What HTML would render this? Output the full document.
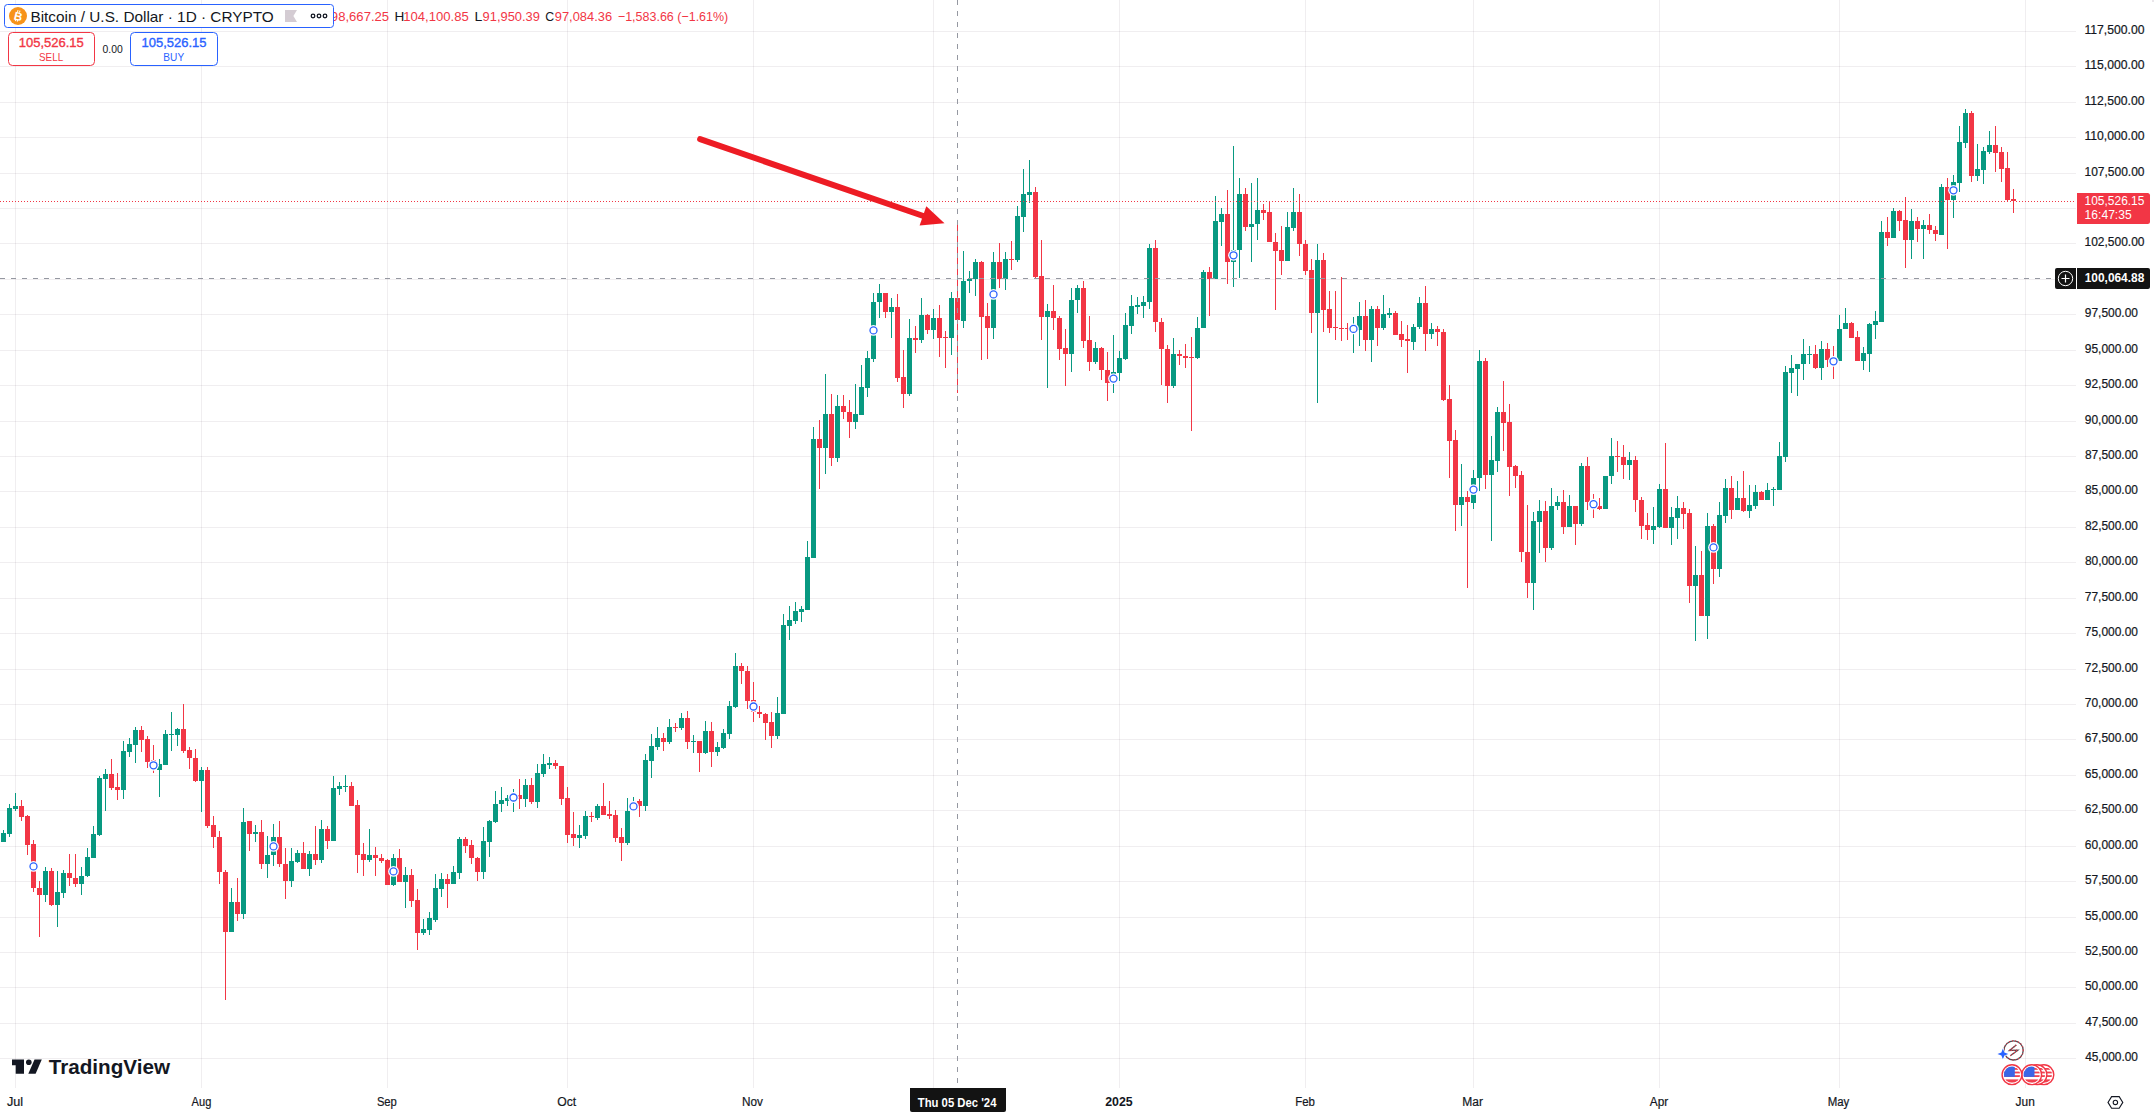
<!DOCTYPE html>
<html><head><meta charset="utf-8"><title>BTCUSD 1D</title><style>
html,body{margin:0;padding:0;background:#fff;}
body{width:2154px;height:1116px;overflow:hidden;position:relative;}
svg{position:absolute;left:0;top:0;font-family:"Liberation Sans",sans-serif;}
</style></head><body>
<svg width="2154" height="1116" viewBox="0 0 2154 1116">
<path d="M15 0h1v1088h-1zM201 0h1v1088h-1zM387 0h1v1088h-1zM567 0h1v1088h-1zM753 0h1v1088h-1zM933 0h1v1088h-1zM1119 0h1v1088h-1zM1305 0h1v1088h-1zM1473 0h1v1088h-1zM1659 0h1v1088h-1zM1839 0h1v1088h-1zM2025 0h1v1088h-1z" fill="rgba(110,90,110,0.1)" shape-rendering="crispEdges"/>
<path d="M0 31h2076v1h-2076zM0 66h2076v1h-2076zM0 102h2076v1h-2076zM0 137h2076v1h-2076zM0 173h2076v1h-2076zM0 208h2076v1h-2076zM0 243h2076v1h-2076zM0 279h2076v1h-2076zM0 314h2076v1h-2076zM0 350h2076v1h-2076zM0 385h2076v1h-2076zM0 421h2076v1h-2076zM0 456h2076v1h-2076zM0 491h2076v1h-2076zM0 527h2076v1h-2076zM0 562h2076v1h-2076zM0 598h2076v1h-2076zM0 633h2076v1h-2076zM0 669h2076v1h-2076zM0 704h2076v1h-2076zM0 739h2076v1h-2076zM0 775h2076v1h-2076zM0 810h2076v1h-2076zM0 846h2076v1h-2076zM0 881h2076v1h-2076zM0 917h2076v1h-2076zM0 952h2076v1h-2076zM0 987h2076v1h-2076zM0 1023h2076v1h-2076zM0 1058h2076v1h-2076z" fill="rgba(110,90,110,0.1)" shape-rendering="crispEdges"/>
<g shape-rendering="crispEdges">
<path d="M3 830h1v12h-1zM9 804h1v33h-1zM15 793h1v18h-1zM45 867h1v35h-1zM57 871h1v56h-1zM63 870h1v28h-1zM81 867h1v28h-1zM87 848h1v29h-1zM93 826h1v32h-1zM99 776h1v60h-1zM105 769h1v42h-1zM123 741h1v58h-1zM129 738h1v19h-1zM135 727h1v36h-1zM159 759h1v38h-1zM165 730h1v35h-1zM171 712h1v39h-1zM177 728h1v18h-1zM201 767h1v45h-1zM231 888h1v44h-1zM243 808h1v111h-1zM255 825h1v17h-1zM267 836h1v42h-1zM273 824h1v42h-1zM291 848h1v39h-1zM297 850h1v13h-1zM309 851h1v25h-1zM321 820h1v43h-1zM333 776h1v65h-1zM339 782h1v13h-1zM345 775h1v17h-1zM369 829h1v33h-1zM393 854h1v32h-1zM405 867h1v41h-1zM423 919h1v16h-1zM429 912h1v23h-1zM435 874h1v48h-1zM441 873h1v24h-1zM453 866h1v18h-1zM459 837h1v42h-1zM483 827h1v52h-1zM489 820h1v37h-1zM495 791h1v32h-1zM501 787h1v25h-1zM507 795h1v11h-1zM513 789h1v23h-1zM525 779h1v28h-1zM537 764h1v44h-1zM543 754h1v23h-1zM549 757h1v12h-1zM579 825h1v23h-1zM585 811h1v28h-1zM597 804h1v16h-1zM627 798h1v47h-1zM633 797h1v13h-1zM645 754h1v57h-1zM651 734h1v44h-1zM657 727h1v23h-1zM669 719h1v25h-1zM681 713h1v17h-1zM693 735h1v18h-1zM705 721h1v33h-1zM717 742h1v14h-1zM723 729h1v20h-1zM729 701h1v38h-1zM735 653h1v55h-1zM777 697h1v42h-1zM783 614h1v100h-1zM789 606h1v34h-1zM795 602h1v22h-1zM801 606h1v16h-1zM807 541h1v69h-1zM813 427h1v131h-1zM825 374h1v100h-1zM837 395h1v67h-1zM855 384h1v45h-1zM861 365h1v50h-1zM867 351h1v46h-1zM873 293h1v69h-1zM879 284h1v34h-1zM891 298h1v40h-1zM909 319h1v77h-1zM921 298h1v45h-1zM933 309h1v30h-1zM951 292h1v63h-1zM963 251h1v77h-1zM969 271h1v22h-1zM975 259h1v37h-1zM993 252h1v87h-1zM1005 252h1v38h-1zM1017 206h1v56h-1zM1023 169h1v63h-1zM1029 160h1v43h-1zM1047 304h1v84h-1zM1071 288h1v84h-1zM1077 285h1v28h-1zM1095 342h1v22h-1zM1113 335h1v58h-1zM1119 351h1v30h-1zM1125 313h1v47h-1zM1131 295h1v39h-1zM1137 297h1v17h-1zM1143 296h1v22h-1zM1149 244h1v65h-1zM1173 338h1v50h-1zM1197 317h1v42h-1zM1203 270h1v58h-1zM1215 196h1v83h-1zM1221 208h1v38h-1zM1233 146h1v141h-1zM1239 178h1v100h-1zM1251 183h1v79h-1zM1257 178h1v62h-1zM1287 212h1v49h-1zM1293 188h1v43h-1zM1317 244h1v159h-1zM1353 317h1v36h-1zM1359 302h1v44h-1zM1371 306h1v56h-1zM1383 295h1v35h-1zM1389 308h1v10h-1zM1413 324h1v26h-1zM1419 297h1v32h-1zM1431 323h1v16h-1zM1461 464h1v62h-1zM1473 470h1v39h-1zM1479 350h1v141h-1zM1491 436h1v105h-1zM1497 407h1v65h-1zM1533 512h1v98h-1zM1539 500h1v53h-1zM1551 488h1v62h-1zM1557 496h1v14h-1zM1569 495h1v32h-1zM1581 463h1v63h-1zM1605 476h1v33h-1zM1611 438h1v46h-1zM1629 452h1v28h-1zM1653 507h1v37h-1zM1659 484h1v44h-1zM1671 507h1v38h-1zM1677 496h1v43h-1zM1695 546h1v95h-1zM1707 513h1v126h-1zM1719 502h1v75h-1zM1725 479h1v44h-1zM1737 481h1v29h-1zM1749 485h1v33h-1zM1755 485h1v24h-1zM1767 483h1v17h-1zM1773 487h1v19h-1zM1779 442h1v48h-1zM1785 366h1v96h-1zM1791 355h1v38h-1zM1797 364h1v32h-1zM1803 339h1v41h-1zM1809 346h1v18h-1zM1821 341h1v39h-1zM1839 315h1v46h-1zM1845 308h1v21h-1zM1863 347h1v23h-1zM1869 323h1v49h-1zM1875 311h1v28h-1zM1881 221h1v101h-1zM1893 208h1v30h-1zM1911 209h1v50h-1zM1923 220h1v39h-1zM1941 184h1v51h-1zM1953 175h1v43h-1zM1959 126h1v66h-1zM1965 109h1v39h-1zM1977 144h1v37h-1zM1983 147h1v37h-1zM1989 131h1v23h-1z" fill="#089981"/>
<path d="M21 800h1v21h-1zM27 815h1v40h-1zM33 840h1v52h-1zM39 881h1v56h-1zM51 868h1v38h-1zM69 854h1v32h-1zM75 854h1v33h-1zM111 759h1v31h-1zM117 773h1v27h-1zM141 726h1v26h-1zM147 736h1v32h-1zM153 745h1v28h-1zM183 704h1v49h-1zM189 747h1v22h-1zM195 749h1v33h-1zM207 767h1v61h-1zM213 816h1v32h-1zM219 831h1v53h-1zM225 870h1v130h-1zM237 878h1v43h-1zM249 821h1v30h-1zM261 820h1v49h-1zM279 821h1v46h-1zM285 848h1v51h-1zM303 842h1v27h-1zM315 826h1v39h-1zM327 826h1v23h-1zM351 782h1v24h-1zM357 800h1v73h-1zM363 843h1v33h-1zM375 847h1v29h-1zM381 854h1v9h-1zM387 859h1v26h-1zM399 849h1v33h-1zM411 869h1v38h-1zM417 889h1v61h-1zM447 874h1v34h-1zM465 837h1v16h-1zM471 840h1v24h-1zM477 857h1v24h-1zM519 779h1v30h-1zM531 778h1v26h-1zM555 760h1v9h-1zM561 766h1v39h-1zM567 787h1v56h-1zM573 812h1v34h-1zM591 812h1v10h-1zM603 783h1v32h-1zM609 801h1v18h-1zM615 810h1v32h-1zM621 828h1v33h-1zM639 799h1v18h-1zM663 733h1v18h-1zM675 723h1v9h-1zM687 711h1v38h-1zM699 741h1v31h-1zM711 722h1v45h-1zM741 663h1v21h-1zM747 666h1v43h-1zM753 682h1v40h-1zM759 706h1v12h-1zM765 713h1v27h-1zM771 712h1v36h-1zM819 420h1v69h-1zM831 394h1v72h-1zM843 395h1v24h-1zM849 400h1v38h-1zM885 293h1v25h-1zM897 294h1v88h-1zM903 350h1v58h-1zM915 326h1v27h-1zM927 314h1v20h-1zM939 305h1v52h-1zM945 331h1v37h-1zM957 221h1v172h-1zM981 261h1v99h-1zM987 303h1v56h-1zM999 243h1v45h-1zM1011 241h1v29h-1zM1035 187h1v91h-1zM1041 240h1v100h-1zM1053 285h1v45h-1zM1059 316h1v44h-1zM1065 329h1v57h-1zM1083 281h1v67h-1zM1089 316h1v55h-1zM1101 347h1v33h-1zM1107 352h1v49h-1zM1155 240h1v92h-1zM1161 318h1v67h-1zM1167 345h1v58h-1zM1179 350h1v15h-1zM1185 344h1v24h-1zM1191 337h1v94h-1zM1209 267h1v49h-1zM1227 190h1v94h-1zM1245 188h1v43h-1zM1263 204h1v16h-1zM1269 201h1v41h-1zM1275 233h1v77h-1zM1281 226h1v49h-1zM1299 194h1v62h-1zM1305 240h1v35h-1zM1311 259h1v74h-1zM1323 253h1v79h-1zM1329 291h1v42h-1zM1335 291h1v49h-1zM1341 277h1v64h-1zM1347 323h1v17h-1zM1365 300h1v51h-1zM1377 306h1v40h-1zM1395 311h1v24h-1zM1401 321h1v26h-1zM1407 325h1v48h-1zM1425 286h1v65h-1zM1437 326h1v20h-1zM1443 329h1v72h-1zM1449 385h1v93h-1zM1455 430h1v101h-1zM1467 491h1v97h-1zM1485 358h1v131h-1zM1503 381h1v70h-1zM1509 404h1v92h-1zM1515 465h1v23h-1zM1521 471h1v91h-1zM1527 505h1v93h-1zM1545 501h1v61h-1zM1563 490h1v44h-1zM1575 506h1v39h-1zM1587 457h1v53h-1zM1593 494h1v24h-1zM1599 498h1v12h-1zM1617 441h1v31h-1zM1623 445h1v34h-1zM1635 456h1v56h-1zM1641 497h1v42h-1zM1647 513h1v27h-1zM1665 443h1v85h-1zM1683 502h1v27h-1zM1689 509h1v94h-1zM1701 551h1v65h-1zM1713 524h1v60h-1zM1731 476h1v43h-1zM1743 471h1v41h-1zM1761 491h1v9h-1zM1815 345h1v24h-1zM1827 343h1v24h-1zM1833 346h1v33h-1zM1851 322h1v16h-1zM1857 331h1v30h-1zM1887 217h1v29h-1zM1899 210h1v21h-1zM1905 197h1v71h-1zM1917 217h1v25h-1zM1929 214h1v20h-1zM1935 226h1v15h-1zM1947 178h1v71h-1zM1971 111h1v71h-1zM1995 126h1v46h-1zM2001 147h1v35h-1zM2007 152h1v50h-1zM2013 189h1v24h-1z" fill="#f23645"/>
<path d="M1 833h5v9h-5zM7 808h5v26h-5zM13 806h5v3h-5zM43 871h5v24h-5zM55 892h5v13h-5zM61 873h5v20h-5zM79 876h5v8h-5zM85 857h5v19h-5zM91 834h5v24h-5zM97 778h5v57h-5zM103 774h5v5h-5zM121 751h5v39h-5zM127 744h5v8h-5zM133 730h5v15h-5zM157 764h5v6h-5zM163 734h5v31h-5zM169 734h5v1h-5zM175 729h5v6h-5zM199 770h5v11h-5zM229 902h5v30h-5zM241 822h5v92h-5zM253 832h5v2h-5zM265 855h5v9h-5zM271 837h5v18h-5zM289 861h5v20h-5zM295 853h5v9h-5zM307 854h5v15h-5zM319 829h5v31h-5zM331 788h5v53h-5zM337 786h5v3h-5zM343 786h5v1h-5zM367 855h5v5h-5zM391 858h5v27h-5zM403 875h5v7h-5zM421 929h5v4h-5zM427 918h5v12h-5zM433 888h5v32h-5zM439 879h5v10h-5zM451 872h5v12h-5zM457 839h5v34h-5zM481 841h5v31h-5zM487 821h5v21h-5zM493 804h5v18h-5zM499 800h5v4h-5zM505 798h5v3h-5zM511 796h5v3h-5zM523 785h5v14h-5zM535 773h5v29h-5zM541 764h5v10h-5zM547 763h5v2h-5zM577 835h5v3h-5zM583 816h5v20h-5zM595 806h5v12h-5zM625 811h5v32h-5zM631 802h5v8h-5zM643 760h5v46h-5zM649 746h5v15h-5zM655 738h5v9h-5zM667 727h5v15h-5zM679 718h5v10h-5zM691 741h5v1h-5zM703 731h5v22h-5zM715 747h5v5h-5zM721 733h5v15h-5zM727 706h5v28h-5zM733 666h5v41h-5zM775 713h5v23h-5zM781 625h5v89h-5zM787 620h5v6h-5zM793 611h5v10h-5zM799 609h5v3h-5zM805 557h5v53h-5zM811 439h5v119h-5zM823 414h5v34h-5zM835 406h5v52h-5zM853 414h5v8h-5zM859 387h5v28h-5zM865 358h5v30h-5zM871 302h5v57h-5zM877 293h5v9h-5zM889 307h5v5h-5zM907 338h5v56h-5zM919 315h5v25h-5zM931 318h5v12h-5zM949 298h5v40h-5zM961 281h5v40h-5zM967 279h5v2h-5zM973 262h5v17h-5zM991 262h5v66h-5zM1003 259h5v20h-5zM1015 216h5v44h-5zM1021 194h5v23h-5zM1027 192h5v3h-5zM1045 311h5v6h-5zM1069 300h5v54h-5zM1075 288h5v12h-5zM1093 348h5v14h-5zM1111 372h5v11h-5zM1117 358h5v15h-5zM1123 325h5v34h-5zM1129 306h5v20h-5zM1135 305h5v2h-5zM1141 302h5v4h-5zM1147 248h5v54h-5zM1171 354h5v32h-5zM1195 328h5v30h-5zM1201 272h5v56h-5zM1213 221h5v58h-5zM1219 214h5v8h-5zM1231 250h5v12h-5zM1237 194h5v56h-5zM1249 224h5v3h-5zM1255 210h5v14h-5zM1285 227h5v34h-5zM1291 212h5v16h-5zM1315 260h5v53h-5zM1351 324h5v8h-5zM1357 316h5v14h-5zM1369 309h5v31h-5zM1381 314h5v14h-5zM1387 313h5v2h-5zM1411 327h5v15h-5zM1417 303h5v24h-5zM1429 329h5v5h-5zM1459 497h5v8h-5zM1471 478h5v25h-5zM1477 361h5v117h-5zM1489 460h5v15h-5zM1495 412h5v49h-5zM1531 521h5v62h-5zM1537 511h5v11h-5zM1549 506h5v42h-5zM1555 502h5v4h-5zM1567 506h5v21h-5zM1579 466h5v58h-5zM1603 476h5v33h-5zM1609 456h5v20h-5zM1627 460h5v5h-5zM1651 526h5v4h-5zM1657 489h5v38h-5zM1669 517h5v11h-5zM1675 508h5v10h-5zM1693 575h5v11h-5zM1705 526h5v90h-5zM1717 515h5v54h-5zM1723 488h5v28h-5zM1735 498h5v12h-5zM1747 505h5v6h-5zM1753 492h5v14h-5zM1765 490h5v10h-5zM1771 489h5v1h-5zM1777 456h5v34h-5zM1783 372h5v85h-5zM1789 368h5v5h-5zM1795 364h5v5h-5zM1801 354h5v10h-5zM1807 354h5v1h-5zM1819 349h5v19h-5zM1837 329h5v32h-5zM1843 323h5v6h-5zM1861 353h5v8h-5zM1867 324h5v30h-5zM1873 321h5v4h-5zM1879 232h5v90h-5zM1891 211h5v27h-5zM1909 221h5v19h-5zM1921 225h5v4h-5zM1939 187h5v48h-5zM1951 182h5v18h-5zM1957 142h5v41h-5zM1963 113h5v30h-5zM1975 169h5v7h-5zM1981 151h5v19h-5zM1987 145h5v7h-5z" fill="#089981"/>
<path d="M19 806h5v11h-5zM25 816h5v29h-5zM31 844h5v44h-5zM37 888h5v7h-5zM49 871h5v34h-5zM67 873h5v5h-5zM73 878h5v6h-5zM109 774h5v14h-5zM115 787h5v3h-5zM139 730h5v10h-5zM145 739h5v23h-5zM151 760h5v8h-5zM181 729h5v22h-5zM187 750h5v8h-5zM193 758h5v23h-5zM205 770h5v56h-5zM211 825h5v12h-5zM217 837h5v35h-5zM223 872h5v60h-5zM235 902h5v12h-5zM247 821h5v13h-5zM259 832h5v32h-5zM277 837h5v27h-5zM283 864h5v17h-5zM301 853h5v16h-5zM313 854h5v6h-5zM325 829h5v12h-5zM349 786h5v20h-5zM355 805h5v50h-5zM361 854h5v6h-5zM373 855h5v3h-5zM379 858h5v3h-5zM385 860h5v25h-5zM397 858h5v24h-5zM409 875h5v26h-5zM415 900h5v33h-5zM445 879h5v5h-5zM463 839h5v7h-5zM469 845h5v13h-5zM475 858h5v14h-5zM517 795h5v4h-5zM529 785h5v17h-5zM553 763h5v3h-5zM559 766h5v33h-5zM565 798h5v37h-5zM571 834h5v4h-5zM589 816h5v1h-5zM601 806h5v9h-5zM607 814h5v2h-5zM613 815h5v23h-5zM619 837h5v6h-5zM637 801h5v5h-5zM661 738h5v4h-5zM673 727h5v1h-5zM685 718h5v24h-5zM697 741h5v12h-5zM709 731h5v21h-5zM739 666h5v5h-5zM745 671h5v30h-5zM751 700h5v12h-5zM757 712h5v2h-5zM763 714h5v9h-5zM769 722h5v14h-5zM817 439h5v9h-5zM829 414h5v44h-5zM841 406h5v6h-5zM847 412h5v10h-5zM883 293h5v19h-5zM895 307h5v71h-5zM901 377h5v17h-5zM913 338h5v2h-5zM925 315h5v15h-5zM937 318h5v20h-5zM943 337h5v1h-5zM955 298h5v22h-5zM979 262h5v55h-5zM985 316h5v12h-5zM997 262h5v17h-5zM1009 259h5v1h-5zM1033 192h5v85h-5zM1039 276h5v41h-5zM1051 311h5v7h-5zM1057 318h5v31h-5zM1063 348h5v6h-5zM1081 288h5v53h-5zM1087 340h5v22h-5zM1099 348h5v22h-5zM1105 370h5v13h-5zM1153 248h5v74h-5zM1159 322h5v27h-5zM1165 349h5v37h-5zM1177 354h5v2h-5zM1183 356h5v2h-5zM1189 357h5v1h-5zM1207 272h5v7h-5zM1225 214h5v48h-5zM1243 194h5v33h-5zM1261 210h5v3h-5zM1267 212h5v30h-5zM1273 242h5v9h-5zM1279 250h5v11h-5zM1297 212h5v32h-5zM1303 244h5v27h-5zM1309 270h5v43h-5zM1321 260h5v50h-5zM1327 309h5v19h-5zM1333 327h5v1h-5zM1339 328h5v1h-5zM1345 328h5v1h-5zM1363 316h5v24h-5zM1375 309h5v19h-5zM1393 313h5v22h-5zM1399 334h5v6h-5zM1405 339h5v2h-5zM1423 303h5v31h-5zM1435 329h5v3h-5zM1441 332h5v68h-5zM1447 399h5v42h-5zM1453 440h5v65h-5zM1465 497h5v5h-5zM1483 361h5v114h-5zM1501 412h5v11h-5zM1507 422h5v45h-5zM1513 466h5v10h-5zM1519 475h5v77h-5zM1525 552h5v31h-5zM1543 511h5v37h-5zM1561 502h5v25h-5zM1573 506h5v18h-5zM1585 466h5v36h-5zM1591 502h5v5h-5zM1597 506h5v3h-5zM1615 456h5v1h-5zM1621 457h5v8h-5zM1633 460h5v40h-5zM1639 500h5v26h-5zM1645 525h5v5h-5zM1663 489h5v39h-5zM1681 508h5v6h-5zM1687 513h5v73h-5zM1699 575h5v41h-5zM1711 526h5v43h-5zM1729 488h5v22h-5zM1741 498h5v13h-5zM1759 492h5v8h-5zM1813 354h5v14h-5zM1825 349h5v11h-5zM1831 358h5v6h-5zM1849 323h5v15h-5zM1855 337h5v24h-5zM1885 232h5v6h-5zM1897 211h5v10h-5zM1903 220h5v20h-5zM1915 221h5v8h-5zM1927 225h5v5h-5zM1933 230h5v4h-5zM1945 187h5v13h-5zM1969 113h5v63h-5zM1993 145h5v8h-5zM1999 152h5v17h-5zM2005 168h5v32h-5zM2011 199h5v2h-5z" fill="#f23645"/>
</g>
<circle cx="33.5" cy="866.4" r="5.4" fill="#fff"/><circle cx="33.5" cy="866.4" r="3.5" fill="#fff" stroke="#2962ff" stroke-width="1.3"/><circle cx="153.5" cy="765.3" r="5.4" fill="#fff"/><circle cx="153.5" cy="765.3" r="3.5" fill="#fff" stroke="#2962ff" stroke-width="1.3"/><circle cx="273.5" cy="846.4" r="5.4" fill="#fff"/><circle cx="273.5" cy="846.4" r="3.5" fill="#fff" stroke="#2962ff" stroke-width="1.3"/><circle cx="393.5" cy="871.4" r="5.4" fill="#fff"/><circle cx="393.5" cy="871.4" r="3.5" fill="#fff" stroke="#2962ff" stroke-width="1.3"/><circle cx="513.5" cy="797.5" r="5.4" fill="#fff"/><circle cx="513.5" cy="797.5" r="3.5" fill="#fff" stroke="#2962ff" stroke-width="1.3"/><circle cx="633.5" cy="806.4" r="5.4" fill="#fff"/><circle cx="633.5" cy="806.4" r="3.5" fill="#fff" stroke="#2962ff" stroke-width="1.3"/><circle cx="753.5" cy="706.5" r="5.4" fill="#fff"/><circle cx="753.5" cy="706.5" r="3.5" fill="#fff" stroke="#2962ff" stroke-width="1.3"/><circle cx="873.5" cy="330.4" r="5.4" fill="#fff"/><circle cx="873.5" cy="330.4" r="3.5" fill="#fff" stroke="#2962ff" stroke-width="1.3"/><circle cx="993.5" cy="294.4" r="5.4" fill="#fff"/><circle cx="993.5" cy="294.4" r="3.5" fill="#fff" stroke="#2962ff" stroke-width="1.3"/><circle cx="1113.5" cy="378.6" r="5.4" fill="#fff"/><circle cx="1113.5" cy="378.6" r="3.5" fill="#fff" stroke="#2962ff" stroke-width="1.3"/><circle cx="1233.5" cy="255.3" r="5.4" fill="#fff"/><circle cx="1233.5" cy="255.3" r="3.5" fill="#fff" stroke="#2962ff" stroke-width="1.3"/><circle cx="1353.5" cy="328.9" r="5.4" fill="#fff"/><circle cx="1353.5" cy="328.9" r="3.5" fill="#fff" stroke="#2962ff" stroke-width="1.3"/><circle cx="1473.5" cy="489.6" r="5.4" fill="#fff"/><circle cx="1473.5" cy="489.6" r="3.5" fill="#fff" stroke="#2962ff" stroke-width="1.3"/><circle cx="1593.5" cy="504.2" r="5.4" fill="#fff"/><circle cx="1593.5" cy="504.2" r="3.5" fill="#fff" stroke="#2962ff" stroke-width="1.3"/><circle cx="1713.5" cy="547.4" r="5.4" fill="#fff"/><circle cx="1713.5" cy="547.4" r="3.5" fill="#fff" stroke="#2962ff" stroke-width="1.3"/><circle cx="1833.5" cy="361.3" r="5.4" fill="#fff"/><circle cx="1833.5" cy="361.3" r="3.5" fill="#fff" stroke="#2962ff" stroke-width="1.3"/><circle cx="1953.5" cy="190.3" r="5.4" fill="#fff"/><circle cx="1953.5" cy="190.3" r="3.5" fill="#fff" stroke="#2962ff" stroke-width="1.3"/>
<path d="M0 201.5H2076" stroke="#f23645" stroke-width="1" stroke-dasharray="1 2" shape-rendering="crispEdges"/>
<path d="M957.5 0V1088" stroke="#9598a1" stroke-width="1" stroke-dasharray="5 6" shape-rendering="crispEdges"/>
<path d="M0 278.5H2055" stroke="#9598a1" stroke-width="1" stroke-dasharray="5 6" shape-rendering="crispEdges"/>
<path d="M700.1 139.2L924.8 216.5" stroke="#ed1c24" stroke-width="6" stroke-linecap="round"/>
<path d="M944.5 223.3L919.6 225.5L926.3 206.2z" fill="#ed1c24"/>
<text x="2084.48" y="34.2" font-size="12.5" fill="#131722" textLength="60.0" lengthAdjust="spacingAndGlyphs" stroke="#131722" stroke-width="0.2">117,500.00</text>
<text x="2084.48" y="69.2" font-size="12.5" fill="#131722" textLength="60.0" lengthAdjust="spacingAndGlyphs" stroke="#131722" stroke-width="0.2">115,000.00</text>
<text x="2084.48" y="105.2" font-size="12.5" fill="#131722" textLength="60.0" lengthAdjust="spacingAndGlyphs" stroke="#131722" stroke-width="0.2">112,500.00</text>
<text x="2084.48" y="140.2" font-size="12.5" fill="#131722" textLength="60.0" lengthAdjust="spacingAndGlyphs" stroke="#131722" stroke-width="0.2">110,000.00</text>
<text x="2084.49" y="176.2" font-size="12.5" fill="#131722" textLength="59.98" lengthAdjust="spacingAndGlyphs" stroke="#131722" stroke-width="0.2">107,500.00</text>
<text x="2084.49" y="246.2" font-size="12.5" fill="#131722" textLength="59.98" lengthAdjust="spacingAndGlyphs" stroke="#131722" stroke-width="0.2">102,500.00</text>
<text x="2084.84" y="317.2" font-size="12.5" fill="#131722" textLength="53.12" lengthAdjust="spacingAndGlyphs" stroke="#131722" stroke-width="0.2">97,500.00</text>
<text x="2084.84" y="353.2" font-size="12.5" fill="#131722" textLength="53.12" lengthAdjust="spacingAndGlyphs" stroke="#131722" stroke-width="0.2">95,000.00</text>
<text x="2084.84" y="388.2" font-size="12.5" fill="#131722" textLength="53.12" lengthAdjust="spacingAndGlyphs" stroke="#131722" stroke-width="0.2">92,500.00</text>
<text x="2084.84" y="424.2" font-size="12.5" fill="#131722" textLength="53.12" lengthAdjust="spacingAndGlyphs" stroke="#131722" stroke-width="0.2">90,000.00</text>
<text x="2084.89" y="459.2" font-size="12.5" fill="#131722" textLength="53.08" lengthAdjust="spacingAndGlyphs" stroke="#131722" stroke-width="0.2">87,500.00</text>
<text x="2084.89" y="494.2" font-size="12.5" fill="#131722" textLength="53.08" lengthAdjust="spacingAndGlyphs" stroke="#131722" stroke-width="0.2">85,000.00</text>
<text x="2084.89" y="530.2" font-size="12.5" fill="#131722" textLength="53.08" lengthAdjust="spacingAndGlyphs" stroke="#131722" stroke-width="0.2">82,500.00</text>
<text x="2084.89" y="565.2" font-size="12.5" fill="#131722" textLength="53.08" lengthAdjust="spacingAndGlyphs" stroke="#131722" stroke-width="0.2">80,000.00</text>
<text x="2084.79" y="601.2" font-size="12.5" fill="#131722" textLength="53.17" lengthAdjust="spacingAndGlyphs" stroke="#131722" stroke-width="0.2">77,500.00</text>
<text x="2084.79" y="636.2" font-size="12.5" fill="#131722" textLength="53.17" lengthAdjust="spacingAndGlyphs" stroke="#131722" stroke-width="0.2">75,000.00</text>
<text x="2084.79" y="672.2" font-size="12.5" fill="#131722" textLength="53.17" lengthAdjust="spacingAndGlyphs" stroke="#131722" stroke-width="0.2">72,500.00</text>
<text x="2084.79" y="707.2" font-size="12.5" fill="#131722" textLength="53.17" lengthAdjust="spacingAndGlyphs" stroke="#131722" stroke-width="0.2">70,000.00</text>
<text x="2084.79" y="742.2" font-size="12.5" fill="#131722" textLength="53.17" lengthAdjust="spacingAndGlyphs" stroke="#131722" stroke-width="0.2">67,500.00</text>
<text x="2084.79" y="778.2" font-size="12.5" fill="#131722" textLength="53.17" lengthAdjust="spacingAndGlyphs" stroke="#131722" stroke-width="0.2">65,000.00</text>
<text x="2084.79" y="813.2" font-size="12.5" fill="#131722" textLength="53.17" lengthAdjust="spacingAndGlyphs" stroke="#131722" stroke-width="0.2">62,500.00</text>
<text x="2084.79" y="849.2" font-size="12.5" fill="#131722" textLength="53.17" lengthAdjust="spacingAndGlyphs" stroke="#131722" stroke-width="0.2">60,000.00</text>
<text x="2084.92" y="884.2" font-size="12.5" fill="#131722" textLength="53.04" lengthAdjust="spacingAndGlyphs" stroke="#131722" stroke-width="0.2">57,500.00</text>
<text x="2084.92" y="920.2" font-size="12.5" fill="#131722" textLength="53.04" lengthAdjust="spacingAndGlyphs" stroke="#131722" stroke-width="0.2">55,000.00</text>
<text x="2084.92" y="955.2" font-size="12.5" fill="#131722" textLength="53.04" lengthAdjust="spacingAndGlyphs" stroke="#131722" stroke-width="0.2">52,500.00</text>
<text x="2084.92" y="990.2" font-size="12.5" fill="#131722" textLength="53.04" lengthAdjust="spacingAndGlyphs" stroke="#131722" stroke-width="0.2">50,000.00</text>
<text x="2085.13" y="1026.2" font-size="12.5" fill="#131722" textLength="52.83" lengthAdjust="spacingAndGlyphs" stroke="#131722" stroke-width="0.2">47,500.00</text>
<text x="2085.13" y="1061.2" font-size="12.5" fill="#131722" textLength="52.83" lengthAdjust="spacingAndGlyphs" stroke="#131722" stroke-width="0.2">45,000.00</text>
<text x="7.0" y="1106" font-size="12.5" fill="#131722" textLength="16.15" lengthAdjust="spacingAndGlyphs" stroke="#131722" stroke-width="0.2">Jul</text>
<text x="191.58" y="1106" font-size="12.5" fill="#131722" textLength="19.74" lengthAdjust="spacingAndGlyphs" stroke="#131722" stroke-width="0.2">Aug</text>
<text x="376.89" y="1106" font-size="12.5" fill="#131722" textLength="19.98" lengthAdjust="spacingAndGlyphs" stroke="#131722" stroke-width="0.2">Sep</text>
<text x="557.23" y="1106" font-size="12.5" fill="#131722" textLength="18.95" lengthAdjust="spacingAndGlyphs" stroke="#131722" stroke-width="0.2">Oct</text>
<text x="742.04" y="1106" font-size="12.5" fill="#131722" textLength="20.92" lengthAdjust="spacingAndGlyphs" stroke="#131722" stroke-width="0.2">Nov</text>
<text x="1295.16" y="1106" font-size="12.5" fill="#131722" textLength="19.72" lengthAdjust="spacingAndGlyphs" stroke="#131722" stroke-width="0.2">Feb</text>
<text x="1462.32" y="1106" font-size="12.5" fill="#131722" textLength="20.68" lengthAdjust="spacingAndGlyphs" stroke="#131722" stroke-width="0.2">Mar</text>
<text x="1649.78" y="1106" font-size="12.5" fill="#131722" textLength="18.42" lengthAdjust="spacingAndGlyphs" stroke="#131722" stroke-width="0.2">Apr</text>
<text x="1827.66" y="1106" font-size="12.5" fill="#131722" textLength="21.67" lengthAdjust="spacingAndGlyphs" stroke="#131722" stroke-width="0.2">May</text>
<text x="2015.61" y="1106" font-size="12.5" fill="#131722" textLength="19.17" lengthAdjust="spacingAndGlyphs" stroke="#131722" stroke-width="0.2">Jun</text>
<text x="1105.17" y="1106" font-size="12.5" fill="#131722" font-weight="bold" textLength="27.49" lengthAdjust="spacingAndGlyphs">2025</text>
<text x="330.88" y="21.1" font-size="13" fill="#f23645" textLength="58.26" lengthAdjust="spacingAndGlyphs">98,667.25</text>
<text x="394.49" y="21.1" font-size="13" fill="#131722" textLength="9.82" lengthAdjust="spacingAndGlyphs">H</text>
<text x="403.2" y="21.1" font-size="13" fill="#f23645" textLength="65.54" lengthAdjust="spacingAndGlyphs">104,100.85</text>
<text x="474.45" y="21.1" font-size="13" fill="#131722" textLength="7.82" lengthAdjust="spacingAndGlyphs">L</text>
<text x="482.59" y="21.1" font-size="13" fill="#f23645" textLength="57.31" lengthAdjust="spacingAndGlyphs">91,950.39</text>
<text x="545.17" y="21.1" font-size="13" fill="#131722" textLength="8.9" lengthAdjust="spacingAndGlyphs">C</text>
<text x="554.79" y="21.1" font-size="13" fill="#f23645" textLength="57.27" lengthAdjust="spacingAndGlyphs">97,084.36</text>
<text x="617.89" y="21.1" font-size="13" fill="#f23645" textLength="110.38" lengthAdjust="spacingAndGlyphs">−1,583.66 (−1.61%)</text>
<rect x="4.5" y="4.5" width="329" height="23" rx="3" fill="#fff" stroke="#2962ff" stroke-width="1"/>
<circle cx="18" cy="16" r="9" fill="#f7931a"/>
<g transform="rotate(14 18 16)"><text x="18.3" y="20.2" font-size="11.5" font-weight="bold" fill="#fff" text-anchor="middle">B</text><path d="M16.6 10.3v2M18.6 10.3v2M16.6 19.6v2M18.6 19.6v2" stroke="#fff" stroke-width="1"/></g>
<text x="30.44" y="21.85" font-size="15" fill="#131722" textLength="243.3" lengthAdjust="spacingAndGlyphs">Bitcoin / U.S. Dollar · 1D · CRYPTO</text>
<path d="M285 10h12l-3.6 6 3.6 6h-12z" fill="#d4ccd3"/>
<circle cx="313" cy="16" r="1.8" fill="none" stroke="#131722" stroke-width="1.3"/>
<circle cx="319" cy="16" r="1.8" fill="none" stroke="#131722" stroke-width="1.3"/>
<circle cx="325" cy="16" r="1.8" fill="none" stroke="#131722" stroke-width="1.3"/>
<rect x="8.5" y="32.5" width="86" height="33" rx="4" fill="#fff" stroke="#f23645" stroke-width="1"/>
<rect x="130.5" y="32.5" width="87" height="33" rx="4" fill="#fff" stroke="#2962ff" stroke-width="1"/>
<text x="18.71" y="46.9" font-size="12.5" fill="#f23645" textLength="65.13" lengthAdjust="spacingAndGlyphs" stroke="#f23645" stroke-width="0.35">105,526.15</text>
<text x="39.06" y="60.8" font-size="10.5" fill="#f23645" textLength="24.07" lengthAdjust="spacingAndGlyphs">SELL</text>
<text x="102.49" y="52.9" font-size="10.5" fill="#131722" textLength="20.21" lengthAdjust="spacingAndGlyphs">0.00</text>
<text x="141.51" y="46.9" font-size="12.5" fill="#2962ff" textLength="65.03" lengthAdjust="spacingAndGlyphs" stroke="#2962ff" stroke-width="0.35">105,526.15</text>
<text x="163.37" y="60.8" font-size="10.5" fill="#2962ff" textLength="20.75" lengthAdjust="spacingAndGlyphs">BUY</text>
<path d="M12 1059.5h12v14.3h-8.3v-8.5h-3.7z" fill="#131722"/><circle cx="28.8" cy="1062.3" r="2.8" fill="#131722"/><path d="M34.5 1059.5h7.3l-6.2 14.3h-7.3z" fill="#131722"/>
<text x="48.77" y="1073.8" font-size="20.5" fill="#131722" font-weight="bold" textLength="121.19" lengthAdjust="spacingAndGlyphs">TradingView</text>
<circle cx="2013.6" cy="1050.4" r="9.6" fill="#fff" stroke="#4d4f56" stroke-width="1.3"/>
<circle cx="2013.6" cy="1050.4" r="9.6" fill="none" stroke="#f23645" stroke-width="1.3" stroke-dasharray="0.9 2.2"/>
<path d="M2016.3 1044.9L2009.4 1050.5L2017.8 1050.2L2010.3 1055.7" fill="none" stroke="#4d4f56" stroke-width="1.3" stroke-linejoin="miter"/>
<path d="M2016.3 1044.9L2009.4 1050.5L2017.8 1050.2L2010.3 1055.7" fill="none" stroke="#f23645" stroke-width="1.3" stroke-dasharray="1 1.6"/>
<path d="M2002.9 1048.6l1.5 3.8 3.9 1.5-3.9 1.5-1.5 3.9-1.5-3.9-3.9-1.5 3.9-1.5z" fill="#2962ff" stroke="#fff" stroke-width="1.4" paint-order="stroke"/>
<circle cx="2043.9" cy="1074.7" r="9.9" fill="#fff" stroke="#f23645" stroke-width="1.4"/><clipPath id="fc0"><circle cx="2043.9" cy="1074.7" r="8.1"/></clipPath><g clip-path="url(#fc0)"><rect x="2034.9" y="1066" width="18" height="18" fill="#fff"/><rect x="2034.9" y="1068.0" width="18" height="1.8" fill="#f0404f"/><rect x="2034.9" y="1071.6" width="18" height="1.8" fill="#f0404f"/><rect x="2034.9" y="1075.2" width="18" height="1.8" fill="#f0404f"/><rect x="2034.9" y="1079.4" width="18" height="3.4" fill="#f0404f"/></g>
<circle cx="2037" cy="1074.7" r="9.9" fill="#fff" stroke="#f23645" stroke-width="1.4"/><clipPath id="fc1"><circle cx="2037" cy="1074.7" r="8.1"/></clipPath><g clip-path="url(#fc1)"><rect x="2028" y="1066" width="18" height="18" fill="#fff"/><rect x="2028" y="1068.0" width="18" height="1.8" fill="#f0404f"/><rect x="2028" y="1071.6" width="18" height="1.8" fill="#f0404f"/><rect x="2028" y="1075.2" width="18" height="1.8" fill="#f0404f"/><rect x="2028" y="1079.4" width="18" height="3.4" fill="#f0404f"/></g>
<circle cx="2031.7" cy="1074.7" r="9.9" fill="#fff" stroke="#f23645" stroke-width="1.4"/><clipPath id="fc2"><circle cx="2031.7" cy="1074.7" r="8.1"/></clipPath><g clip-path="url(#fc2)"><rect x="2022.7" y="1066" width="18" height="18" fill="#fff"/><rect x="2022.7" y="1068.0" width="18" height="1.8" fill="#f0404f"/><rect x="2022.7" y="1071.6" width="18" height="1.8" fill="#f0404f"/><rect x="2022.7" y="1075.2" width="18" height="1.8" fill="#f0404f"/><rect x="2022.7" y="1079.4" width="18" height="3.4" fill="#f0404f"/><rect x="2022.7" y="1066" width="11.8" height="10.9" fill="#3b66e6"/></g>
<circle cx="2012" cy="1074.7" r="9.9" fill="#fff" stroke="#f23645" stroke-width="1.4"/><clipPath id="fc3"><circle cx="2012" cy="1074.7" r="8.1"/></clipPath><g clip-path="url(#fc3)"><rect x="2003" y="1066" width="18" height="18" fill="#fff"/><rect x="2003" y="1068.0" width="18" height="1.8" fill="#f0404f"/><rect x="2003" y="1071.6" width="18" height="1.8" fill="#f0404f"/><rect x="2003" y="1075.2" width="18" height="1.8" fill="#f0404f"/><rect x="2003" y="1079.4" width="18" height="3.4" fill="#f0404f"/><rect x="2003" y="1066" width="11.8" height="10.9" fill="#3b66e6"/></g>
<path d="M2111.6 1096.6h7.6l3.6 5.8-3.6 5.8h-7.6l-3.6-5.8z" fill="none" stroke="#131722" stroke-width="1.1"/><circle cx="2115.4" cy="1102.4" r="2.2" fill="none" stroke="#131722" stroke-width="1.1"/>
<path d="M2077 193h70.5a2.5 2.5 0 0 1 2.5 2.5v26a2.5 2.5 0 0 1-2.5 2.5h-70.5z" fill="#f23645"/>
<text x="2084.59" y="204.8" font-size="12.5" fill="#fff" textLength="59.81" lengthAdjust="spacingAndGlyphs">105,526.15</text>
<text x="2084.58" y="218.5" font-size="12.5" fill="#fff" textLength="47.14" lengthAdjust="spacingAndGlyphs">16:47:35</text>
<path d="M2057 268h91a2 2 0 0 1 2 2v17a2 2 0 0 1-2 2h-91a2 2 0 0 1-2-2v-17a2 2 0 0 1 2-2z" fill="#131313"/><rect x="2076" y="268" width="1" height="21" fill="#fff"/>
<circle cx="2065.5" cy="278.5" r="7.2" fill="none" stroke="#fff" stroke-width="1"/><path d="M2065.5 274.5v8M2061.5 278.5h8" stroke="#fff" stroke-width="1.2"/>
<text x="2084.75" y="281.8" font-size="12.5" fill="#fff" font-weight="bold" textLength="59.52" lengthAdjust="spacingAndGlyphs">100,064.88</text>
<path d="M910 1088h96v22a2 2 0 0 1-2 2h-92a2 2 0 0 1-2-2z" fill="#131313"/>
<text x="917.78" y="1107" font-size="12.5" fill="#fff" font-weight="bold" textLength="78.68" lengthAdjust="spacingAndGlyphs">Thu 05 Dec '24</text>
<rect x="2152" y="0" width="2" height="2" fill="#ebe7eb"/>
</svg>
</body></html>
